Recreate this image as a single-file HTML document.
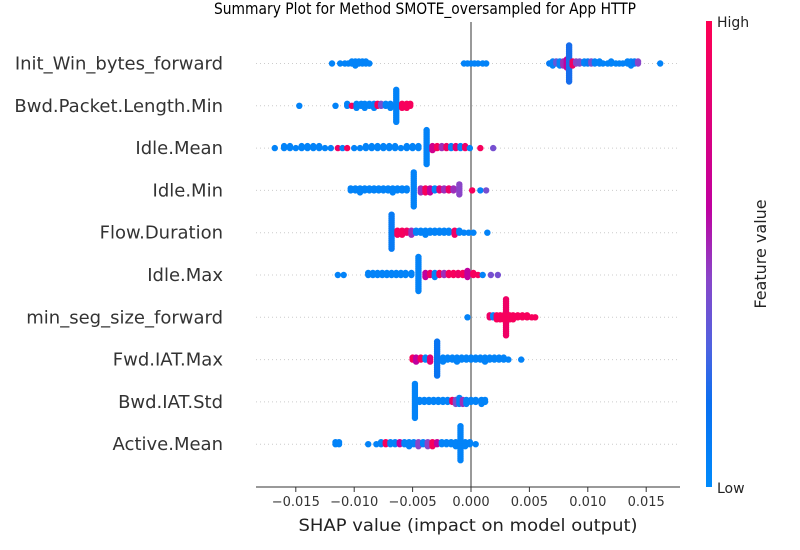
<!DOCTYPE html>
<html><head><meta charset="utf-8"><style>
body{margin:0;background:#fff;}
svg{display:block;font-family:"DejaVu Sans","Liberation Sans",sans-serif;}
</style></head><body>
<svg id="chart" width="800" height="550" viewBox="0 0 800 550">
<defs>
<linearGradient id="cb" x1="0" y1="1" x2="0" y2="0">
<stop offset="0" stop-color="#008bfb"/><stop offset="0.18" stop-color="#0a6ff0"/>
<stop offset="0.3" stop-color="#4f62e0"/><stop offset="0.45" stop-color="#8a45c8"/>
<stop offset="0.6" stop-color="#c0009f"/><stop offset="1" stop-color="#ff0052"/>
</linearGradient>
</defs>
<text x="425" y="14" text-anchor="middle" font-size="16" textLength="422" lengthAdjust="spacingAndGlyphs" fill="#000">Summary Plot for Method SMOTE_oversampled for App HTTP</text>
<g id="grid"></g>
<line x1="471" y1="22" x2="471" y2="487" stroke="#999" stroke-width="2"/>
<g id="dots"></g>
<line x1="256" y1="487" x2="680" y2="487" stroke="#333" stroke-width="1"/>
<g id="xticks"></g>
<g id="ylabels"></g>
<text x="468" y="531" text-anchor="middle" font-size="17" textLength="339" lengthAdjust="spacingAndGlyphs" fill="#222">SHAP value (impact on model output)</text>
<rect x="706" y="21" width="6" height="466" fill="url(#cb)"/>
<text x="717" y="27" font-size="14" fill="#222">High</text>
<text x="717" y="493" font-size="14" fill="#222">Low</text>
<text transform="translate(766,254) rotate(-90)" text-anchor="middle" font-size="16" fill="#222">Feature value</text>
</svg>
<script>
const features=["Init_Win_bytes_forward","Bwd.Packet.Length.Min","Idle.Mean","Idle.Min","Flow.Duration","Idle.Max","min_seg_size_forward","Fwd.IAT.Max","Bwd.IAT.Std","Active.Mean"];
const xTicks=[-0.015,-0.010,-0.005,0.000,0.005,0.010,0.015];
const xTickLabels=["\u22120.015","\u22120.010","\u22120.005","0.000","0.005","0.010","0.015"];
// points: [shap value, feature value 0..1, stack count]
const pInit=[[-0.0119,0.05,1],[-0.0112,0.05,1],[-0.0108,0.05,1],[-0.0105,0.05,1],[-0.0102,0.05,2],[-0.0099,0.05,3],[-0.0096,0.05,2],[-0.0093,0.05,2],[-0.0090,0.05,2],[-0.0087,0.05,1],
[-0.0006,0.05,1],[-0.0003,0.05,1],[0,0.05,1],[0.0003,0.05,1],[0.0006,0.05,1],[0.0010,0.05,1],[0.0013,0.05,1],
[0.0067,0.1,1],[0.0070,0.05,3],[0.0073,0.35,2],[0.0076,0.05,3],[0.0079,0.5,3],[0.0082,0.6,5],[0.0084,0.2,19],[0.0087,0.9,3],[0.0090,0.45,2],[0.0093,0.4,2],[0.0097,0.05,2],[0.0100,0.1,2],[0.0103,0.4,2],[0.0106,0.05,2],[0.0110,0.05,2],[0.0113,0.05,1],[0.0117,0.05,1],[0.0120,0.05,2],[0.0124,0.05,1],[0.0127,0.05,1],[0.0130,0.05,1],[0.0134,0.05,2],[0.0137,0.05,3],[0.0140,0.1,2],[0.0143,0.45,2],[0.0162,0.05,1]];
const pBwdPkt=[[-0.0147,0.05,1],[-0.0116,0.05,1],[-0.0106,0.05,2],[-0.0102,0.95,1],[-0.0098,0.05,3],[-0.0094,0.05,2],[-0.0091,0.05,3],[-0.0087,0.05,2],[-0.0083,0.05,3],[-0.0080,0.95,2],[-0.0077,0.4,2],[-0.0073,0.05,2],[-0.0069,0.05,3],[-0.0064,0.05,17],[-0.0059,0.95,3],[-0.0055,0.95,3],[-0.0052,0.95,2]];
const pIdleMean=[[-0.0168,0.05,1],[-0.0160,0.05,2],[-0.0155,0.05,2],[-0.0150,0.05,1],[-0.0145,0.05,2],[-0.0140,0.05,2],[-0.0135,0.05,2],[-0.0130,0.05,2],[-0.0125,0.05,1],[-0.0120,0.05,1],[-0.0114,0.9,1],[-0.0110,0.05,1],[-0.0106,0.95,1],[-0.0100,0.05,1],[-0.0095,0.05,1],[-0.0090,0.05,2],[-0.0085,0.05,2],[-0.0080,0.05,2],[-0.0075,0.05,2],[-0.0070,0.05,2],[-0.0065,0.05,2],[-0.0060,0.05,1],[-0.0055,0.05,2],[-0.0050,0.05,2],[-0.0045,0.05,2],[-0.0038,0.05,18],[-0.0033,0.7,3],[-0.0029,0.95,2],[-0.0025,0.5,2],[-0.0021,0.9,2],[-0.0017,0.05,2],[-0.0013,0.85,2],[-0.0009,0.05,2],[-0.0005,0.9,2],[-0.0001,0.05,1],[0.0008,0.95,1],[0.0019,0.4,1]];
const pIdleMin=[[-0.0103,0.05,2],[-0.0099,0.05,2],[-0.0095,0.05,3],[-0.0091,0.05,2],[-0.0087,0.05,2],[-0.0083,0.05,2],[-0.0079,0.05,2],[-0.0075,0.05,2],[-0.0071,0.05,2],[-0.0067,0.05,3],[-0.0063,0.05,2],[-0.0059,0.05,2],[-0.0055,0.05,2],[-0.0049,0.05,18],[-0.0043,0.5,3],[-0.0039,0.95,3],[-0.0035,0.6,3],[-0.0031,0.05,2],[-0.0027,0.8,2],[-0.0023,0.5,2],[-0.0019,0.9,2],[-0.0015,0.5,2],[-0.0010,0.45,6],[0.0001,0.95,1],[0.0008,0.05,1],[0.0013,0.4,1]];
const pFlow=[[-0.0068,0.1,18],[-0.0063,0.95,3],[-0.0059,0.95,3],[-0.0055,0.9,2],[-0.0051,0.5,3],[-0.0047,0.05,2],[-0.0043,0.05,2],[-0.0039,0.05,3],[-0.0035,0.05,2],[-0.0031,0.05,2],[-0.0027,0.05,2],[-0.0023,0.05,2],[-0.0019,0.05,2],[-0.0014,0.9,3],[-0.0010,0.05,2],[-0.0006,0.05,1],[-0.0002,0.05,1],[0.0002,0.05,1],[0.0014,0.05,1]];
const pIdleMax=[[-0.0114,0.05,1],[-0.0109,0.05,1],[-0.0088,0.05,2],[-0.0084,0.05,2],[-0.0080,0.05,2],[-0.0076,0.05,2],[-0.0072,0.05,2],[-0.0068,0.05,2],[-0.0064,0.05,2],[-0.0060,0.05,2],[-0.0056,0.05,2],[-0.0051,0.05,2],[-0.0045,0.05,18],[-0.0039,0.6,3],[-0.0035,0.9,2],[-0.0031,0.05,3],[-0.0027,0.95,2],[-0.0023,0.5,2],[-0.0019,0.95,2],[-0.0015,0.95,2],[-0.0011,0.9,2],[-0.0007,0.95,2],[-0.0003,0.6,4],[0.0002,0.95,2],[0.0006,0.95,1],[0.0010,0.05,1],[0.0017,0.4,1],[0.0023,0.4,1]];
const pMinSeg=[[-0.0003,0.05,1],[0.0016,0.9,2],[0.0019,0.05,2],[0.0022,0.95,3],[0.0025,0.95,3],[0.0030,0.9,19],[0.0028,0.95,3],[0.0033,0.95,3],[0.0036,0.95,3],[0.0040,0.95,2],[0.0044,0.95,2],[0.0048,0.95,2],[0.0052,0.95,1],[0.0055,0.95,1]];
const pFwdIat=[[-0.0050,0.95,2],[-0.0047,0.6,3],[-0.0043,0.95,2],[-0.0039,0.05,2],[-0.0035,0.8,3],[-0.0029,0.15,18],[-0.0024,0.05,3],[-0.0020,0.05,2],[-0.0016,0.05,2],[-0.0012,0.05,3],[-0.0008,0.05,2],[-0.0004,0.05,2],[0,0.05,2],[0.0004,0.05,2],[0.0008,0.05,2],[0.0012,0.05,3],[0.0016,0.05,2],[0.0020,0.05,2],[0.0024,0.05,2],[0.0028,0.05,2],[0.0032,0.05,1],[0.0043,0.05,1]];
const pBwdIat=[[-0.0048,0.05,18],[-0.0044,0.05,2],[-0.0040,0.05,2],[-0.0036,0.05,2],[-0.0032,0.05,2],[-0.0028,0.05,2],[-0.0024,0.05,2],[-0.0020,0.05,2],[-0.0016,0.9,2],[-0.0013,0.4,3],[-0.0010,0.05,4],[-0.0007,0.5,3],[-0.0004,0.05,3],[0,0.05,2],[0.0004,0.05,2],[0.0009,0.05,3],[0.0012,0.05,2]];
const pActive=[[-0.0116,0.05,2],[-0.0113,0.05,2],[-0.0088,0.05,1],[-0.0081,0.05,1],[-0.0077,0.05,2],[-0.0073,0.95,2],[-0.0069,0.05,2],[-0.0065,0.05,2],[-0.0061,0.6,2],[-0.0057,0.05,2],[-0.0053,0.05,3],[-0.0049,0.05,2],[-0.0045,0.45,3],[-0.0041,0.05,2],[-0.0037,0.45,3],[-0.0033,0.95,3],[-0.0029,0.6,2],[-0.0025,0.05,2],[-0.0021,0.05,2],[-0.0017,0.05,2],[-0.0013,0.05,3],[-0.0009,0.05,18],[-0.0005,0.05,3],[-0.0001,0.05,2],[0.0004,0.05,1]];
const allPoints=[pInit,pBwdPkt,pIdleMean,pIdleMin,pFlow,pIdleMax,pMinSeg,pFwdIat,pBwdIat,pActive];

const NS="http://www.w3.org/2000/svg";
function xScale(v){return 471+v*11680;}
function yScale(i){return 63.5+i*42.3;}
const cStops=[[0,[0,139,251]],[0.18,[10,111,240]],[0.3,[79,98,224]],[0.45,[138,69,200]],[0.6,[192,0,159]],[1,[255,0,82]]];
function color(t){for(let i=1;i<cStops.length;i++){if(t<=cStops[i][0]){const a=cStops[i-1],b=cStops[i];const f=(t-a[0])/(b[0]-a[0]);const c=a[1].map((v,k)=>Math.round(v+(b[1][k]-v)*f));return "rgb("+c.join(",")+")";}}return "rgb(255,0,82)";}
function mk(tag,attrs,parent){const e=document.createElementNS(NS,tag);for(const k in attrs)e.setAttribute(k,attrs[k]);parent.appendChild(e);return e;}
const grid=document.getElementById("grid"),dots=document.getElementById("dots"),xt=document.getElementById("xticks"),yl=document.getElementById("ylabels");
features.forEach((f,i)=>{
  const y=yScale(i);
  const g=mk("line",{x1:256,x2:680,y1:y,y2:y,stroke:"#ccc","stroke-width":1,"stroke-dasharray":"1 3"},grid);
  
  
  const t=mk("text",{x:223,y:y+6,"text-anchor":"end","font-size":18,fill:"#333"},yl);
  t.textContent=f;
  
  
  const grp=mk("g",{},dots);
  
  
  allPoints[i].forEach(p=>{
    const cx=xScale(p[0]);const col=color(p[1]);
    for(let k=0;k<p[2];k++){
      const off=(k%2===0?1:-1)*Math.ceil(k/2)*2;
      const c=mk("circle",{cx:cx,cy:y+off,r:3.2,fill:col},grp);
      
      
    }
  });
});
xTicks.forEach((v,i)=>{
  const x=xScale(v);
  const l=mk("line",{x1:x,x2:x,y1:487,y2:492,stroke:"#333"},xt);
  
  
  const t=mk("text",{x:x,y:506,"text-anchor":"middle","font-size":13,fill:"#333"},xt);
  t.textContent=xTickLabels[i];
  
  
});
</script>
</body></html>
